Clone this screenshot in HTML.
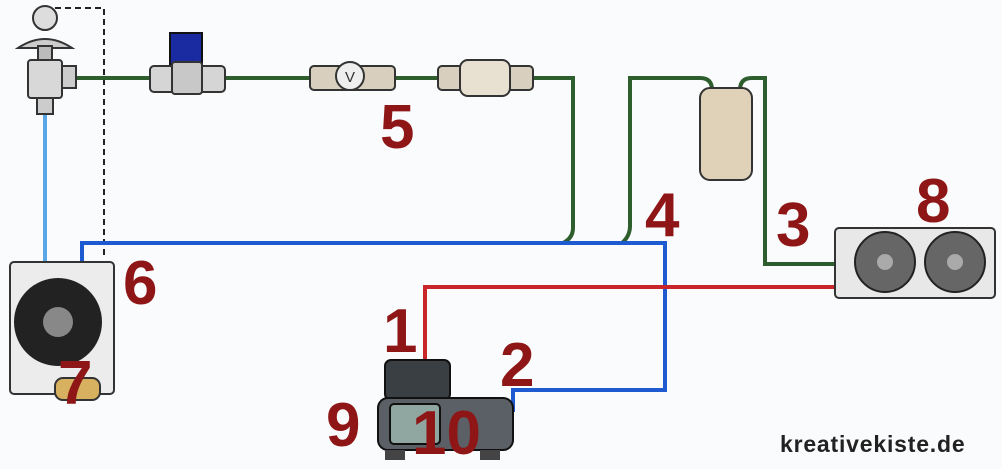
<!DOCTYPE html>
<html><head><meta charset="utf-8"><style>
html,body{margin:0;padding:0;background:#fafbfc;}
svg{display:block}
.n{font-family:"Liberation Sans",sans-serif;font-weight:bold;fill:#8e1616;font-size:62px}
</style></head><body>
<svg width="1002" height="469" viewBox="0 0 1002 469" xmlns="http://www.w3.org/2000/svg">
<rect width="1002" height="469" fill="#fafbfc"/>
<path d="M55 8 H104 V256" fill="none" stroke="#222" stroke-width="2" stroke-dasharray="6,4"/>
<path d="M70 78 H573 V228 Q573 238 563 243" fill="none" stroke="#2e5e2e" stroke-width="4"/>
<path d="M622 243 Q630 236 630 226 V78 H700 Q712 78 712 90" fill="none" stroke="#2e5e2e" stroke-width="4"/>
<path d="M740 90 Q740 78 752 78 H765 V264 H838" fill="none" stroke="#2e5e2e" stroke-width="4"/>
<path d="M45 112 V262" fill="none" stroke="#5aa7e8" stroke-width="4"/>
<path d="M82 262 V243 H665 V390 H513 V412" fill="none" stroke="#1e5ad0" stroke-width="4"/>
<path d="M425 392 V287 H840" fill="none" stroke="#c8262a" stroke-width="4"/>
<circle cx="45" cy="18" r="12" fill="#ddd" stroke="#333" stroke-width="2"/>
<path d="M18 48 Q45 30 72 48 Z" fill="#ccc" stroke="#333" stroke-width="2"/>
<rect x="38" y="46" width="14" height="14" fill="#bbb" stroke="#333" stroke-width="2"/>
<rect x="28" y="60" width="34" height="38" rx="3" fill="#d8d8d8" stroke="#333" stroke-width="2"/>
<rect x="62" y="66" width="14" height="22" fill="#ccc" stroke="#333" stroke-width="2"/>
<rect x="37" y="98" width="16" height="16" fill="#ccc" stroke="#333" stroke-width="2"/>
<rect x="170" y="33" width="32" height="32" fill="#1a2aa0" stroke="#111" stroke-width="2"/>
<rect x="150" y="66" width="75" height="26" rx="4" fill="#d5d5d5" stroke="#333" stroke-width="2"/>
<rect x="172" y="62" width="30" height="32" rx="3" fill="#c8c8c8" stroke="#333" stroke-width="2"/>
<rect x="310" y="66" width="85" height="24" rx="4" fill="#d8cfbf" stroke="#333" stroke-width="2"/>
<circle cx="350" cy="76" r="14" fill="#eee" stroke="#333" stroke-width="2"/>
<text x="350" y="82" text-anchor="middle" font-family="Liberation Sans,sans-serif" font-size="15" fill="#333">V</text>
<rect x="438" y="66" width="95" height="24" rx="4" fill="#d8cfbf" stroke="#333" stroke-width="2"/>
<rect x="460" y="60" width="50" height="36" rx="8" fill="#e8e0d0" stroke="#333" stroke-width="2"/>
<rect x="700" y="88" width="52" height="92" rx="10" fill="#e0d2b8" stroke="#333" stroke-width="2"/>
<rect x="10" y="262" width="104" height="132" rx="4" fill="#ececec" stroke="#333" stroke-width="2"/>
<circle cx="58" cy="322" r="44" fill="#222"/>
<circle cx="58" cy="322" r="15" fill="#888"/>
<rect x="55" y="378" width="45" height="22" rx="8" fill="#d7b060" stroke="#333" stroke-width="2"/>
<rect x="835" y="228" width="160" height="70" rx="4" fill="#e8e8e8" stroke="#333" stroke-width="2"/>
<circle cx="885" cy="262" r="30" fill="#666" stroke="#222" stroke-width="2"/>
<circle cx="955" cy="262" r="30" fill="#666" stroke="#222" stroke-width="2"/>
<circle cx="885" cy="262" r="8" fill="#aaa"/><circle cx="955" cy="262" r="8" fill="#aaa"/>
<rect x="385" y="360" width="65" height="40" rx="6" fill="#3a3f44" stroke="#111" stroke-width="2"/>
<rect x="378" y="398" width="135" height="52" rx="10" fill="#5a6066" stroke="#111" stroke-width="2"/>
<rect x="390" y="404" width="50" height="40" rx="4" fill="#8fa7a0" stroke="#111" stroke-width="2"/>
<rect x="385" y="450" width="20" height="10" fill="#444"/><rect x="480" y="450" width="20" height="10" fill="#444"/>
<text class="n" x="380" y="148">5</text>
<text class="n" x="645" y="236">4</text>
<text class="n" x="776" y="246">3</text>
<text class="n" x="916" y="222">8</text>
<text class="n" x="123" y="304">6</text>
<text class="n" x="58" y="404">7</text>
<text class="n" x="383" y="352">1</text>
<text class="n" x="500" y="386">2</text>
<text class="n" x="326" y="446">9</text>
<text class="n" x="412" y="454">10</text>
<text x="780" y="452" font-family="Liberation Sans,sans-serif" font-weight="bold" font-size="23" letter-spacing="0.8" fill="#222">kreativekiste.de</text>
</svg>
</body></html>
